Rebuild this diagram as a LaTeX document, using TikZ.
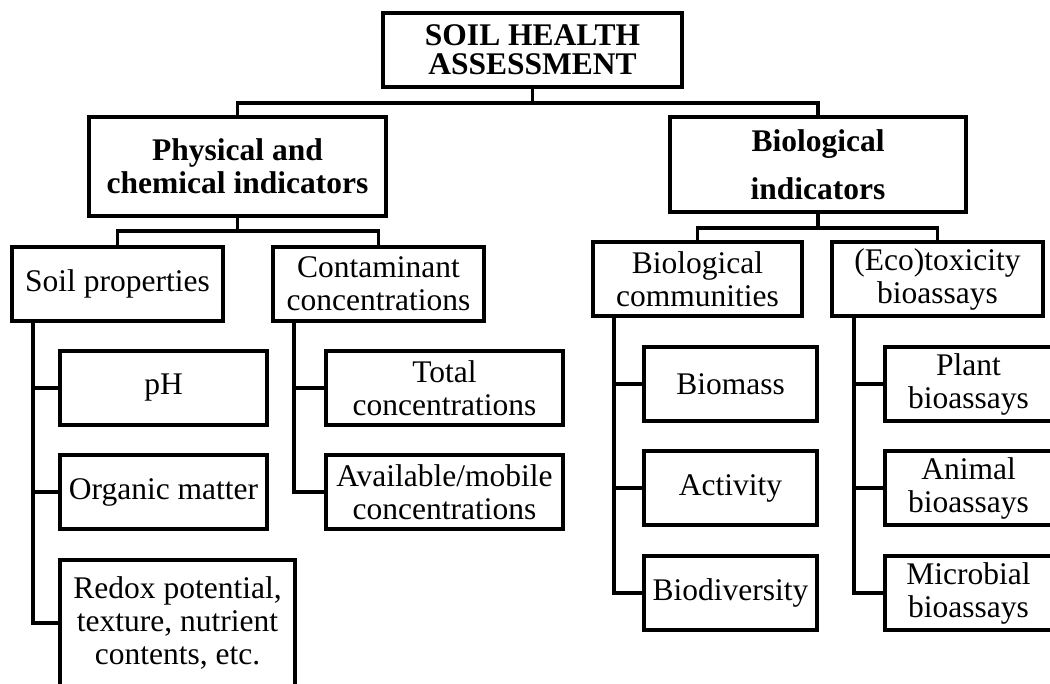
\documentclass[tikz,border=0pt]{standalone}
\usepackage{fontspec}
\setmainfont{Liberation Serif}
\begin{document}
\begin{tikzpicture}[x=1pt,y=-1pt,
  box/.style={draw, line width=3.2pt, inner sep=0pt, align=center,
    font=\fontsize{31.5}{33}\selectfont},
  bbox/.style={box, font=\fontsize{31.5}{33}\selectfont\bfseries},
  conn/.style={line width=3.2pt}]
\useasboundingbox (0,0) rectangle (1050,684);
\clip (0,0) rectangle (1050,684);
% top levels
\node[bbox, minimum width=299pt, minimum height=74pt] (top) at (532.5,50) {SOIL HEALTH\\[-4pt]ASSESSMENT};
\node[bbox, minimum width=297pt, minimum height=99pt] (phys) at (237.5,166.5) {Physical and\\chemical indicators};
\node[bbox, minimum width=296pt, minimum height=95pt] (bio) at (818,164.5) {Biological\\[15pt]indicators};
% second level
\node[box, minimum width=211pt, minimum height=74pt] (soil) at (117.5,284) {Soil properties};
\node[box, minimum width=211pt, minimum height=74pt] (cont) at (378.5,284) {Contaminant\\concentrations};
\node[box, minimum width=209pt, minimum height=74pt] (comm) at (697.5,279) {Biological\\communities};
\node[box, minimum width=211pt, minimum height=74pt] (eco) at (937.5,279) {(Eco)toxicity\\bioassays};
% leaves
\node[box, minimum width=207pt, minimum height=74pt] (ph) at (163.5,388) {pH};
\node[box, minimum width=207pt, minimum height=74pt] (org) at (163.5,492) {Organic matter};
\node[box, minimum width=235pt, minimum height=126pt] (redox) at (177.5,623) {Redox potential,\\texture, nutrient\\contents, etc.};
\node[box, minimum width=237pt, minimum height=74pt] (total) at (444.5,388) {Total\\concentrations};
\node[box, minimum width=237pt, minimum height=74pt] (avail) at (444.5,492) {Available/mobile\\concentrations};
\node[box, minimum width=173pt, minimum height=74pt] (biomass) at (730.5,384) {Biomass};
\node[box, minimum width=173pt, minimum height=74pt] (activity) at (730.5,488) {Activity};
\node[box, minimum width=173pt, minimum height=74pt] (biodiv) at (730.5,593) {Biodiversity};
\node[box, minimum width=167pt, minimum height=74pt] (plant) at (968.5,384) {Plant\\bioassays};
\node[box, minimum width=167pt, minimum height=74pt] (animal) at (968.5,488) {Animal\\bioassays};
\node[box, minimum width=167pt, minimum height=74pt] (micro) at (968.5,593) {Microbial\\bioassays};
% junction coordinates
\coordinate (j1) at (532.5,103);
\coordinate (j2) at (237.5,231);
\coordinate (j3) at (818,228);
\coordinate (s1) at (33,321);
\coordinate (s2) at (294,321);
\coordinate (s3) at (614,316);
\coordinate (s4) at (854,316);
% connectors
\draw[conn] (top.south) -- (j1);
\draw[conn] (phys.north) |- (j1) -| (bio.north);
\draw[conn] (phys.south) -- (j2);
\draw[conn] (soil.north) |- (j2) -| (cont.north);
\draw[conn] (bio.south) -- (j3);
\draw[conn] (comm.north) |- (j3) -| (eco.north);
\draw[conn] (s1) |- (redox.west);
\draw[conn] (s1 |- ph.west) -- (ph.west);
\draw[conn] (s1 |- org.west) -- (org.west);
\draw[conn] (s2) |- (avail.west);
\draw[conn] (s2 |- total.west) -- (total.west);
\draw[conn] (s3) |- (biodiv.west);
\draw[conn] (s3 |- biomass.west) -- (biomass.west);
\draw[conn] (s3 |- activity.west) -- (activity.west);
\draw[conn] (s4) |- (micro.west);
\draw[conn] (s4 |- plant.west) -- (plant.west);
\draw[conn] (s4 |- animal.west) -- (animal.west);
\end{tikzpicture}
\end{document}
